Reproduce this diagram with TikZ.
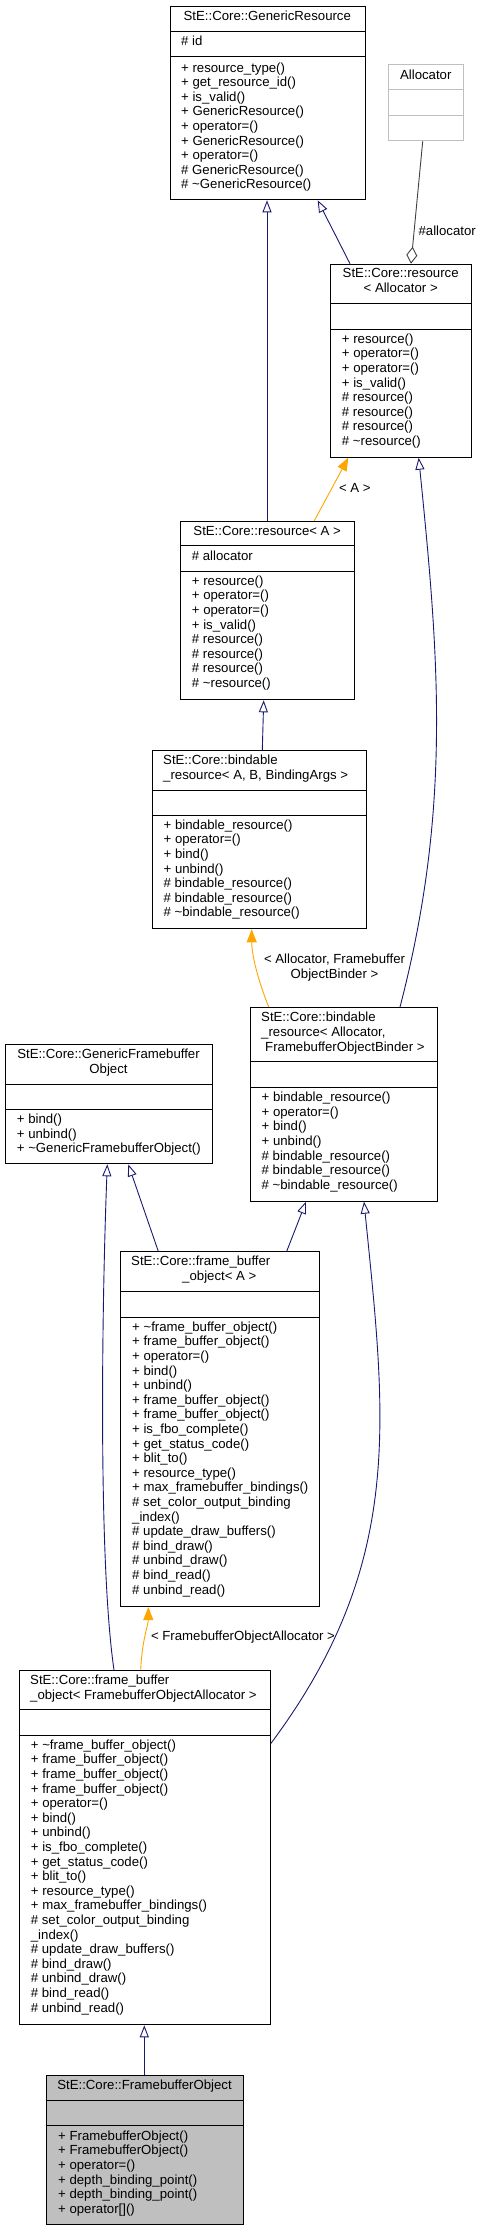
\documentclass[tikz,border=0pt]{standalone}
\usepackage{fontspec}
\setmainfont{Liberation Sans}
\usetikzlibrary{arrows.meta,calc}
\definecolor{navy}{HTML}{191970}
\definecolor{orng}{HTML}{FFA500}
\definecolor{agray}{HTML}{404040}
\definecolor{lgray}{HTML}{BFBFBF}
\tikzset{
  umlbox/.style={draw=black, line width=1pt, inner sep=0pt, anchor=north west, rectangle},
  sepline/.style={draw=black, line width=1pt},
  txt/.style={inner sep=0pt, anchor=mid west},
  ctxt/.style={inner sep=0pt, anchor=mid},
  lbl/.style={inner sep=0pt, anchor=center, align=center},
  inh/.style={draw=navy, line width=0.9pt, -{Triangle[open, length=12pt, width=9pt]}},
  tmpl/.style={draw=orng, line width=0.9pt, -{Triangle[length=13pt, width=10pt]}},
  agg/.style={draw=agray, line width=0.9pt, -{Diamond[open, length=17pt, width=11pt]}}
}
\newcommand\umlclass[8][]{%
  \node[umlbox,#1, minimum width={#5-#3}, minimum height={#6-#4}] (#2) at (#3,#4) {};
  \draw[sepline] (#3,#7) -- (#5,#7) (#3,#8) -- (#5,#8);}
\newcommand\mlines[4]{%
  \foreach \t [count=\i] in {#4} {\node[txt] (#1-\i) at (#2,{#3+(\i-1)*14.6}) {\t};}}
\begin{document}
\begin{tikzpicture}[x=1pt,y=-1pt,font=\fontsize{13.2}{14.6}\selectfont]
\useasboundingbox (0,0) rectangle (483,2231);

% GenericResource
\umlclass{gr}{170}{5.7}{364.7}{199.3}{31.7}{56.7}
\node[ctxt] (gr-h) at (267.3,18) {StE::Core::GenericResource};
\node[txt] (gr-a) at (181,43) {\# id};
\mlines{gr-m}{181}{69.5}{+ resource\_type(),+ get\_resource\_id(),+ is\_valid(),+ GenericResource(),+ operator=(),+ GenericResource(),+ operator=(),\# GenericResource(),\# \textasciitilde GenericResource()}

% Allocator
\node[umlbox, draw=lgray, minimum width=75, minimum height=76] (alloc) at (388.3,64.3) {};
\draw[draw=lgray, line width=1pt] (388.3,89.7) -- (463.3,89.7) (388.3,115.3) -- (463.3,115.3);
\node[ctxt] (alloc-h) at (425.8,77) {Allocator};

% resource<Allocator>
\umlclass{rAl}{330}{263.7}{471.3}{456.7}{303}{329}
\node[ctxt] (rAl-h1) at (400.7,275.3) {StE::Core::resource};
\node[ctxt] (rAl-h2) at (400.7,290.3) {< Allocator >};
\mlines{rAl-m}{341.7}{340.7}{+ resource(),+ operator=(),+ operator=(),+ is\_valid(),\# resource(),\# resource(),\# resource(),\# \textasciitilde resource()}

% resource<A>
\umlclass{rA}{180}{520.7}{354.3}{699.3}{545.7}{571}
\node[ctxt] (rA-h) at (267.2,533.3) {StE::Core::resource< A >};
\node[txt] (rA-a) at (191.7,558.3) {\# allocator};
\mlines{rA-m}{191.7}{582.7}{+ resource(),+ operator=(),+ operator=(),+ is\_valid(),\# resource(),\# resource(),\# resource(),\# \textasciitilde resource()}

% bindable_resource<A,B,BindingArgs>
\umlclass{bA}{152.3}{750}{366}{928.3}{790.3}{815.7}
\node[txt] (bA-h1) at (163,762) {StE::Core::bindable};
\node[txt] (bA-h2) at (163,777) {\_resource< A, B, BindingArgs >};
\mlines{bA-m}{163.5}{826.7}{+ bindable\_resource(),+ operator=(),+ bind(),+ unbind(),\# bindable\_resource(),\# bindable\_resource(),\# \textasciitilde bindable\_resource()}

% bindable_resource<Allocator, FramebufferObjectBinder>
\umlclass{bAl}{250}{1007}{436.7}{1200.7}{1061.7}{1087.7}
\node[txt] (bAl-h1) at (261,1019) {StE::Core::bindable};
\node[txt] (bAl-h2) at (261,1034) {\_resource< Allocator,};
\node[txt] (bAl-h3) at (265,1049) {FramebufferObjectBinder >};
\mlines{bAl-m}{261.5}{1099}{+ bindable\_resource(),+ operator=(),+ bind(),+ unbind(),\# bindable\_resource(),\# bindable\_resource(),\# \textasciitilde bindable\_resource()}

% GenericFramebufferObject
\umlclass{gfo}{5}{1043.7}{212}{1163.3}{1084}{1109}
\node[ctxt] (gfo-h1) at (108.5,1056) {StE::Core::GenericFramebuffer};
\node[ctxt] (gfo-h2) at (108.5,1071) {Object};
\mlines{gfo-m}{16.7}{1121}{+ bind(),+ unbind(),+ \textasciitilde GenericFramebufferObject()}

% frame_buffer_object<A>
\umlclass{fboA}{120}{1251.3}{318.7}{1606}{1291.7}{1317}
\node[txt] (fboA-h1) at (131,1263) {StE::Core::frame\_buffer};
\node[ctxt] (fboA-h2) at (219.3,1278) {\_object< A >};
\mlines{fboA-m}{132}{1328.7}{+ \textasciitilde frame\_buffer\_object(),+ frame\_buffer\_object(),+ operator=(),+ bind(),+ unbind(),+ frame\_buffer\_object(),+ frame\_buffer\_object(),+ is\_fbo\_complete(),+ get\_status\_code(),+ blit\_to(),+ resource\_type(),+ max\_framebuffer\_bindings(),\# set\_color\_output\_binding,\_index(),\# update\_draw\_buffers(),\# bind\_draw(),\# unbind\_draw(),\# bind\_read(),\# unbind\_read()}

% frame_buffer_object<FramebufferObjectAllocator>
\umlclass{fboF}{19}{1670}{270}{2024.3}{1709.3}{1735.3}
\node[txt] (fboF-h1) at (30,1682) {StE::Core::frame\_buffer};
\node[txt] (fboF-h2) at (30,1697) {\_object< FramebufferObjectAllocator >};
\mlines{fboF-m}{30.7}{1746.7}{+ \textasciitilde frame\_buffer\_object(),+ frame\_buffer\_object(),+ frame\_buffer\_object(),+ frame\_buffer\_object(),+ operator=(),+ bind(),+ unbind(),+ is\_fbo\_complete(),+ get\_status\_code(),+ blit\_to(),+ resource\_type(),+ max\_framebuffer\_bindings(),\# set\_color\_output\_binding,\_index(),\# update\_draw\_buffers(),\# bind\_draw(),\# unbind\_draw(),\# bind\_read(),\# unbind\_read()}

% FramebufferObject
\umlclass[fill=lgray]{fo}{45.7}{2075}{243.3}{2224.3}{2100.7}{2125.7}
\node[ctxt] (fo-h) at (144.5,2087) {StE::Core::FramebufferObject};
\mlines{fo-m}{58}{2137.7}{+ FramebufferObject(),+ FramebufferObject(),+ operator=(),+ depth\_binding\_point(),+ depth\_binding\_point(),{+ operator[]()}}

% ---- connectors ----
\draw[inh] ([xshift=87pt]rA.north west) -- ([xshift=97pt]gr.south west);
\draw[inh] ([xshift=20pt]rAl.north west) -- ([xshift=147.7pt]gr.south west);
\draw[agg] ([xshift=34.4pt]alloc.south west) -- ([xshift=81pt]rAl.north west);
\node[lbl] (l-alloc) at (447.2,230.7) {\#allocator};
\draw[tmpl] ([xshift=134.3pt]rA.north west) -- ([xshift=18.3pt]rAl.south west);
\node[lbl] (l-a) at (354.8,488.3) {< A >};
\draw[inh] ([xshift=110pt]bA.north west) -- ([xshift=83.7pt]rA.south west);
\draw[tmpl] ([xshift=18.7pt]bAl.north west) .. controls (258,980) and (251.7,955) .. ([xshift=99.4pt]bA.south west);
\node[lbl] (l-b) at (334.5,967.3) {< Allocator, Framebuffer\\ObjectBinder >};
\draw[inh] ([xshift=150pt]bAl.north west) .. controls (452,807) and (438.7,656.7) .. ([xshift=88.7pt]rAl.south west);
\draw[inh] ([xshift=38.3pt]fboA.north west) -- ([xshift=123.3pt]gfo.south west);
\draw[inh] ([xshift=95pt]fboF.north west) .. controls (98,1560) and (102,1300) .. ([xshift=102.3pt]gfo.south west);
\draw[inh] ([xshift=166.7pt]fboA.north west) -- ([xshift=56pt]bAl.south west);
\draw[inh] ([yshift=-73.3pt]fboF.north east) .. controls (405,1563.3) and (386,1420.7) .. ([xshift=114pt]bAl.south west);
\draw[tmpl] ([xshift=121.7pt]fboF.north west) .. controls (142,1640) and (148.3,1625) .. ([xshift=28.3pt]fboA.south west);
\node[lbl] (l-f) at (243,1636.7) {< FramebufferObjectAllocator >};
\draw[inh] ([xshift=98.6pt]fo.north west) -- ([xshift=125.3pt]fboF.south west);
\end{tikzpicture}
\end{document}
